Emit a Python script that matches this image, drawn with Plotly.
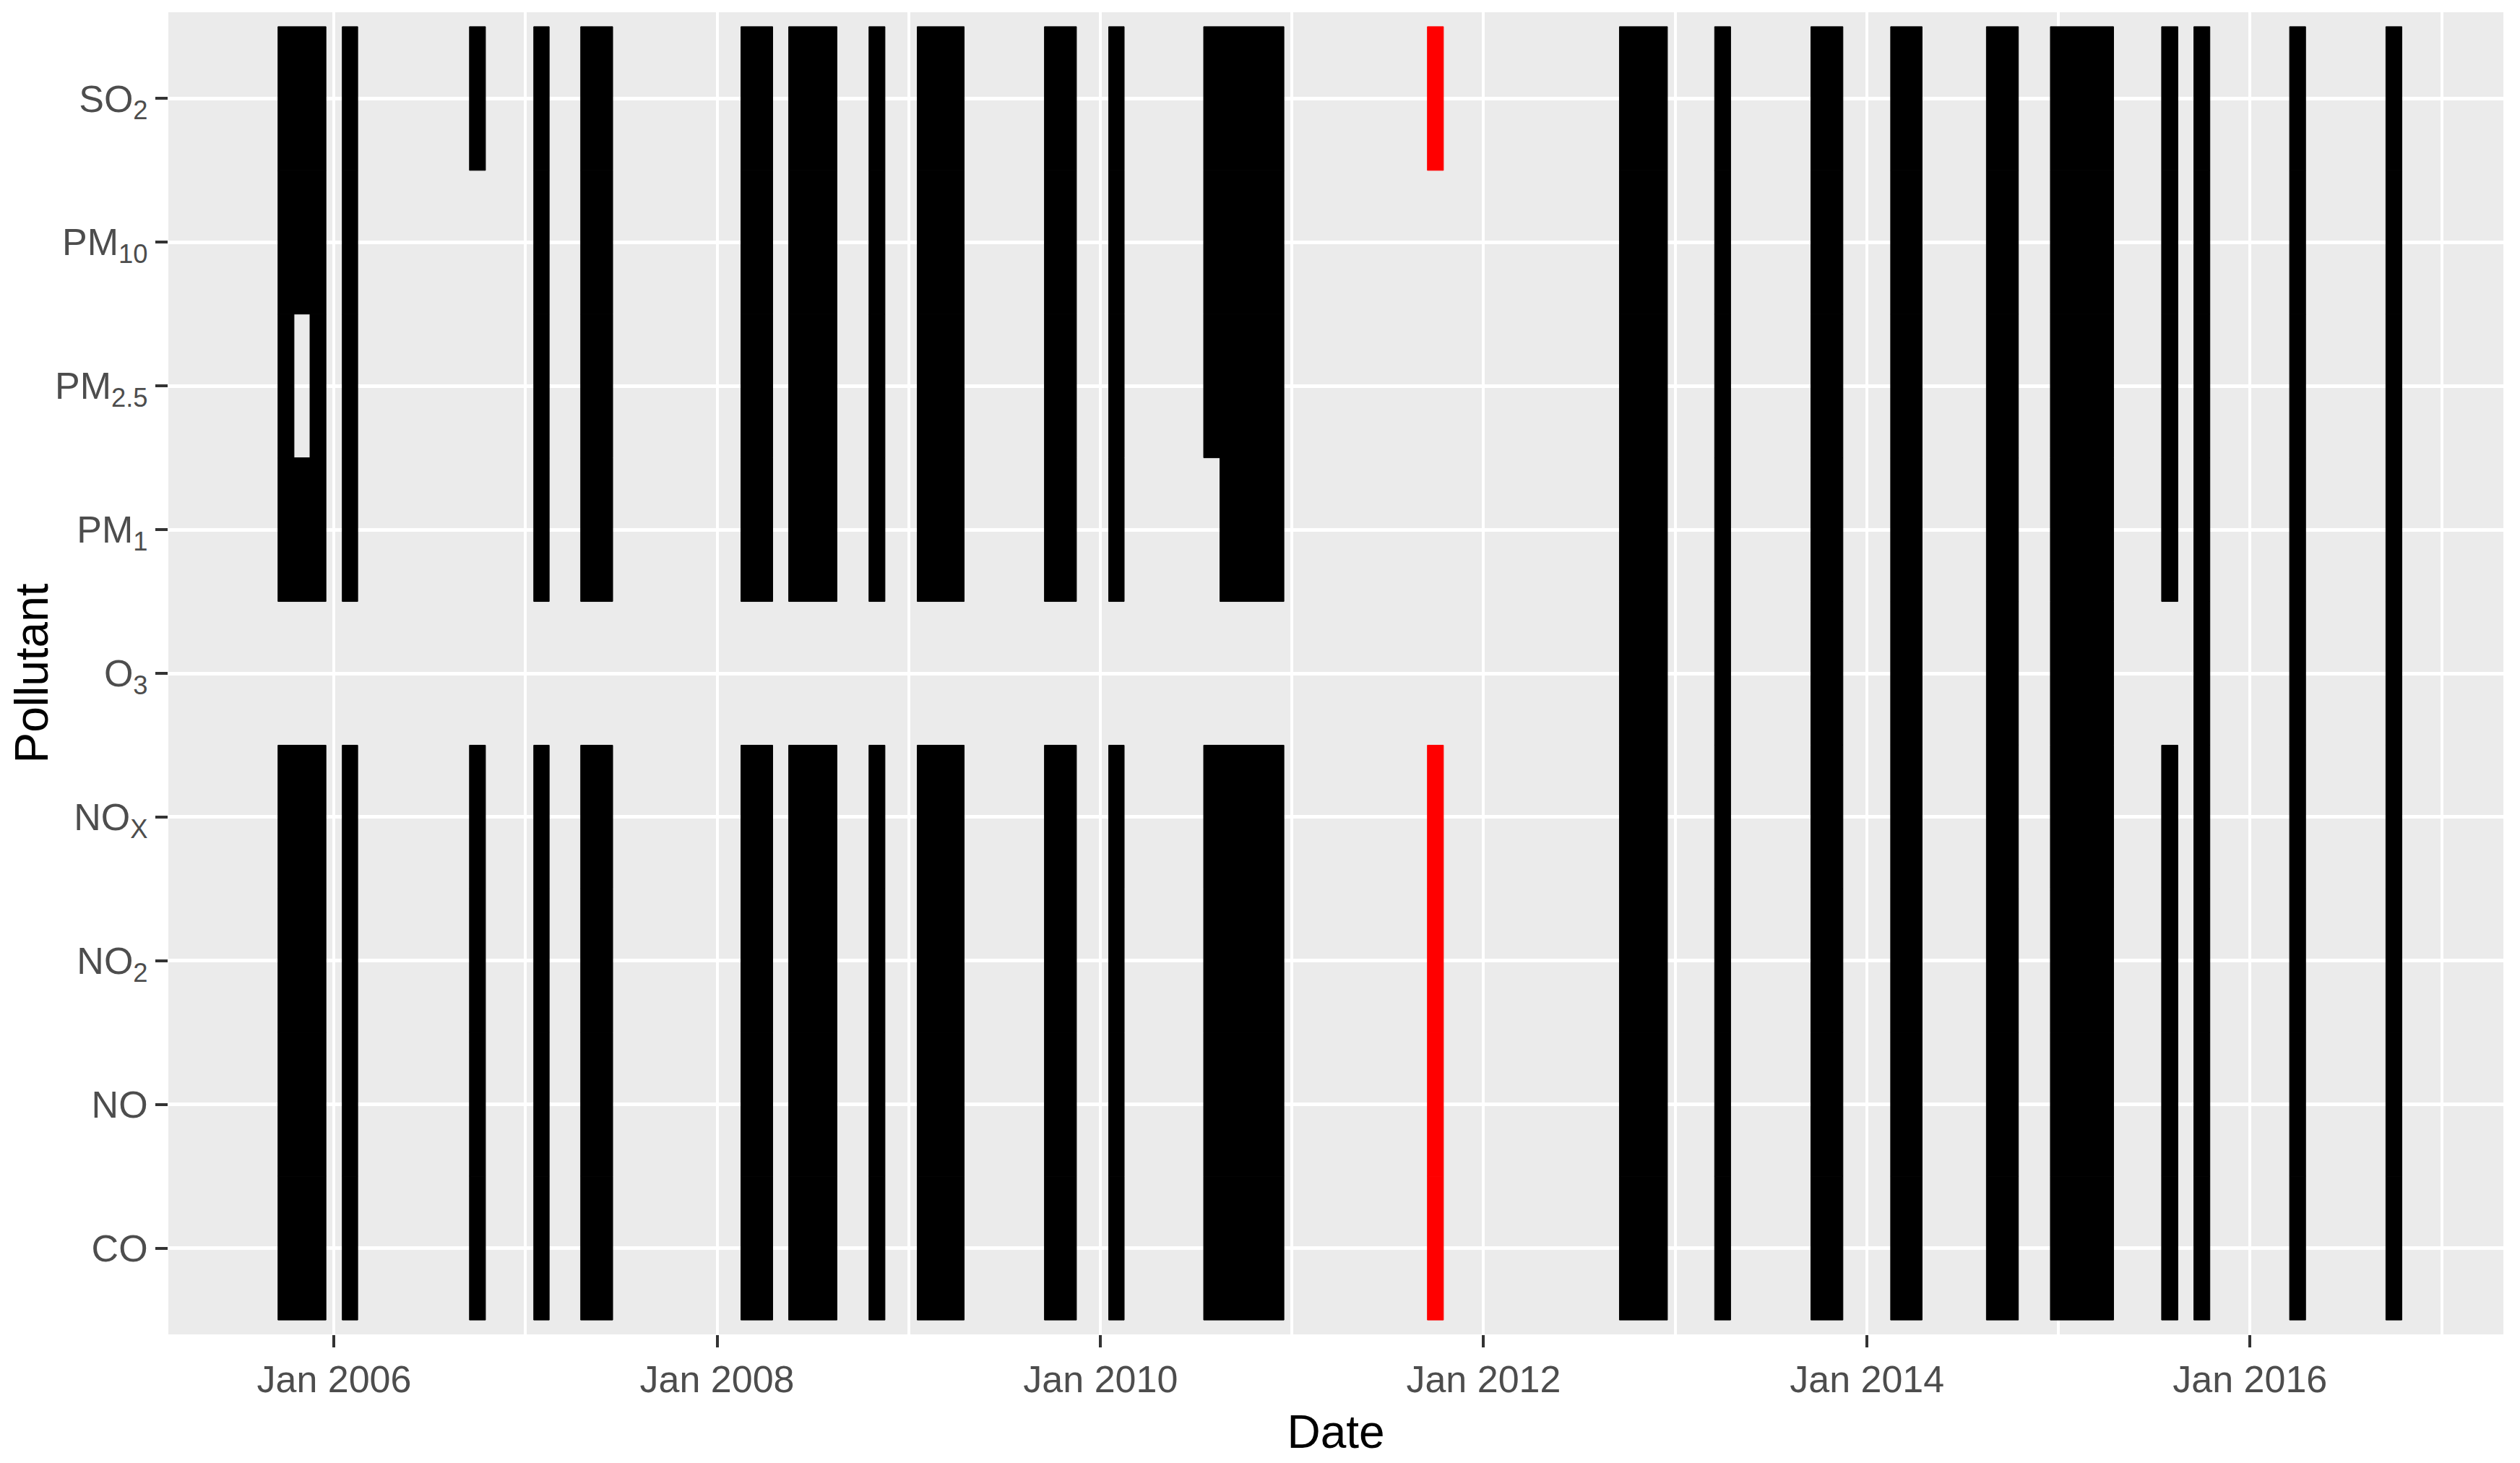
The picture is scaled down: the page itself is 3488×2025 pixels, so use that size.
import pandas as pd
import plotly.graph_objects as go

# pollutants, bottom to top, and their tick labels
pollutants = ["CO", "NO", "NO2", "NOX", "O3", "PM1", "PM2.5", "PM10", "SO2"]
pollutant_labels = ["CO", "NO", "NO<sub>2</sub>", "NO<sub>X</sub>", "O<sub>3</sub>",
                    "PM<sub>1</sub>", "PM<sub>2.5</sub>", "PM<sub>10</sub>", "SO<sub>2</sub>"]

groups = {
    "all": ["CO", "NO", "NO2", "NOX", "O3", "PM1", "PM2.5", "PM10", "SO2"],
    "no_o3": ["CO", "NO", "NO2", "NOX", "PM1", "PM2.5", "PM10", "SO2"],
    "no_o3_pm25": ["CO", "NO", "NO2", "NOX", "PM1", "PM10", "SO2"],
    "no_o3_pm1": ["CO", "NO", "NO2", "NOX", "PM2.5", "PM10", "SO2"],
    "nox_so2": ["CO", "NO", "NO2", "NOX", "SO2"],
    "pm25": ["PM2.5"],
    "pm1": ["PM1"],
}

# monthly runs: first month, last month, pollutant group, status
run_first = ["2005-10", "2005-10", "2005-12", "2006-02", "2006-10", "2007-02", "2007-05",
             "2008-03", "2008-06", "2008-11", "2009-02", "2009-10", "2010-02", "2010-08",
             "2010-09", "2011-10", "2012-10", "2013-04", "2013-10", "2014-03", "2014-09",
             "2015-01", "2015-08", "2015-10", "2016-04", "2016-10"]
run_last = ["2005-12", "2005-10", "2005-12", "2006-02", "2006-10", "2007-02", "2007-06",
            "2008-04", "2008-08", "2008-11", "2009-04", "2009-11", "2010-02", "2010-12",
            "2010-12", "2011-10", "2012-12", "2013-04", "2013-11", "2014-04", "2014-10",
            "2015-04", "2015-08", "2015-10", "2016-04", "2016-10"]
run_group = ["no_o3_pm25", "pm25", "pm25", "no_o3", "nox_so2", "no_o3", "no_o3",
             "no_o3", "no_o3", "no_o3", "no_o3", "no_o3", "no_o3", "no_o3_pm1",
             "pm1", "nox_so2", "all", "all", "all", "all", "all",
             "all", "no_o3", "all", "all", "all"]
run_status = ["ok"] * 15 + ["flagged"] + ["ok"] * 10

status_colors = {"ok": "black", "flagged": "#FF0000"}

font = "Liberation Sans, Arial, sans-serif"

fig = go.Figure()

for status, color in status_colors.items():
    ys, bases, lengths = [], [], []
    for first, last, grp, st in zip(run_first, run_last, run_group, run_status):
        if st != status:
            continue
        # a tile is centred on the 1st of its month and reaches halfway to the neighbours
        t0 = pd.Timestamp(first + "-01")
        t1 = pd.Timestamp(last + "-01")
        left = t0 - (t0 - (t0 - pd.DateOffset(months=1))) / 2
        right = t1 + ((t1 + pd.DateOffset(months=1)) - t1) / 2
        for p in groups[grp]:
            ys.append(p)
            bases.append(left.isoformat())
            lengths.append((right - left).total_seconds() * 1000)
    fig.add_trace(go.Bar(
        orientation="h",
        y=ys,
        x=lengths,
        base=bases,
        width=1,
        # outline in the fill colour hides the seams between stacked rows
        marker=dict(color=color, line=dict(width=1, color=color)),
        showlegend=False,
    ))

# the page body adds an 8px margin, so the figure is 8px smaller than the window
fig.update_layout(
    width=3480,
    height=2017,
    barmode="overlay",
    paper_bgcolor="white",
    plot_bgcolor="#EBEBEB",
    margin=dict(l=225, r=23, t=9, b=178),
    font=dict(family=font),
    xaxis=dict(
        type="date",
        range=["2005-02-19", "2017-04-28"],
        tick0="2006-01-01",
        dtick="M24",
        tickformat="%b %Y",
        ticks="outside",
        ticklen=17,
        tickwidth=4,
        tickcolor="#333333",
        tickfont=dict(family=font, size=52, color="#4D4D4D"),
        showgrid=True,
        gridcolor="white",
        gridwidth=4.3,
        minor=dict(dtick="M12", tick0="2005-01-01", showgrid=True,
                   gridcolor="white", gridwidth=3.5, ticks=""),
        zeroline=False,
        showline=False,
        automargin=False,
        title=dict(text="Date", font=dict(family=font, size=64, color="black"), standoff=21),
    ),
    yaxis=dict(
        type="category",
        categoryorder="array",
        categoryarray=pollutants,
        range=[-0.6, 8.6],
        tickvals=pollutants,
        ticktext=pollutant_labels,
        ticks="outside",
        ticklen=17,
        tickwidth=4,
        tickcolor="#333333",
        tickfont=dict(family=font, size=52, color="#4D4D4D"),
        showgrid=True,
        gridcolor="white",
        gridwidth=4.5,
        zeroline=False,
        showline=False,
        automargin=False,
        title=dict(text="Pollutant", font=dict(family=font, size=64, color="black"), standoff=11),
    ),
)

fig.write_html("out.html")
